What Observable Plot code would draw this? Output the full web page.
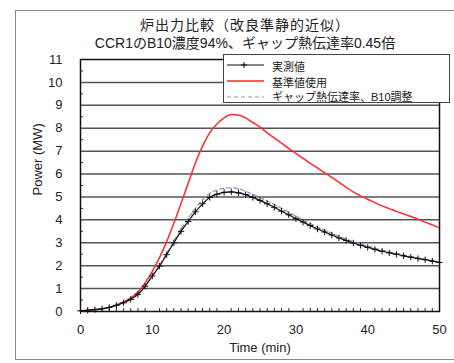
<!DOCTYPE html>
<html><head><meta charset="utf-8">
<script src="https://cdn.jsdelivr.net/npm/d3@7"></script>
<script src="https://cdn.jsdelivr.net/npm/@observablehq/plot@0.6"></script>
<style>
body{margin:0;background:#fff;font-family:"Liberation Sans","Noto Sans CJK JP",sans-serif;}
#wrap{position:relative;width:454px;height:363px;overflow:hidden;}
#box{position:absolute;left:15px;top:10px;width:460px;height:350px;border:1px solid #888;box-sizing:border-box;}
.t{position:absolute;left:0;width:490px;text-align:center;color:#222;white-space:nowrap;}
#t1{top:14px;font-size:14px;letter-spacing:1px;}
#t2{top:32px;font-size:14px;}
#chart{position:absolute;left:0;top:45px;}
#legend{position:absolute;left:223px;top:54px;width:227px;height:49px;border:1.5px solid #444;background:#fff;box-sizing:border-box;font-size:11px;color:#222;}
#legend div{position:absolute;left:48px;white-space:nowrap;}
#legend svg{position:absolute;left:0;top:0;}
</style></head>
<body><div id="wrap">
<div id="box"></div>
<div class="t" id="t1">炉出力比較（改良準静的近似）</div>
<div class="t" id="t2">CCR1のB10濃度94%、ギャップ熱伝達率0.45倍</div>
<div id="chart"></div>
<div id="legend">
<svg width="60" height="48">
<line x1="3" x2="40" y1="10" y2="10" stroke="#111" stroke-width="1.2"/>
<path d="M20,7V13M17,10H23" stroke="#111" stroke-width="1"/>
<line x1="3" x2="40" y1="26" y2="26" stroke="#ff2a2a" stroke-width="1.5"/>
<line x1="3" x2="40" y1="42" y2="42" stroke="#8c96c8" stroke-width="1.2" stroke-dasharray="4,3"/>
</svg>
<div style="top:3px">実測値</div>
<div style="top:19px">基準値使用</div>
<div style="top:33px">ギャップ熱伝達率、B10調整</div>
</div>
</div>
<script>
const minutes = [0,1,2,3,4,5,6,7,8,9,10,11,12,13,14,15,16,17,18,19,20,21,22,23,24,25,26,27,28,29,30,31,32,33,34,35,36,37,38,39,40,41,42,43,44,45,46,47,48,49,50];
const measured = [0.03,0.05,0.08,0.12,0.18,0.27,0.38,0.53,0.75,1.1,1.55,1.98,2.48,3.0,3.5,3.93,4.35,4.7,4.98,5.12,5.2,5.22,5.18,5.1,4.98,4.85,4.7,4.55,4.38,4.22,4.05,3.9,3.75,3.6,3.47,3.34,3.21,3.1,2.99,2.89,2.8,2.71,2.63,2.56,2.5,2.43,2.37,2.31,2.26,2.2,2.14];
const reference = [0.03,0.05,0.08,0.12,0.19,0.29,0.42,0.6,0.85,1.25,1.75,2.35,3.05,3.85,4.72,5.6,6.48,7.22,7.8,8.18,8.45,8.6,8.58,8.45,8.25,8.05,7.8,7.58,7.35,7.12,6.9,6.68,6.47,6.27,6.05,5.85,5.64,5.43,5.22,5.05,4.9,4.75,4.61,4.49,4.37,4.26,4.15,4.03,3.9,3.78,3.65];
const adjusted = [0.03,0.05,0.08,0.12,0.18,0.27,0.38,0.53,0.76,1.12,1.58,2.02,2.54,3.07,3.6,4.06,4.5,4.88,5.15,5.3,5.38,5.4,5.35,5.25,5.12,4.98,4.83,4.67,4.5,4.33,4.16,4.0,3.84,3.69,3.55,3.41,3.28,3.16,3.05,2.94,2.85,2.76,2.68,2.6,2.53,2.46,2.4,2.34,2.28,2.22,2.16];
const yTicks = [0,1,2,3,4,5,6,7,8,9,10,11];
const xTicks = [0,10,20,30,40,50];

const rows = minutes.map((t,i)=>({t, m: measured[i], r: reference[i], a: adjusted[i]}));
const yMinor = yTicks.slice(0,-1).map(v=>v+0.5);
const xMinor = minutes.filter(t=>t%10!==0);

const chart = Plot.plot({
  width: 454, height: 318,
  marginLeft: 80, marginRight: 15, marginTop: 14, marginBottom: 52,
  x: {domain:[0,50]},
  y: {domain:[0,11]},
  style: {fontFamily:'"Liberation Sans","Noto Sans CJK JP",sans-serif', fontSize:"13px", color:"#222", background:"transparent"},
  marks: [
    Plot.ruleY(yTicks.slice(1,-1), {stroke:"#555", strokeWidth:1.5}),
    Plot.axisY({ticks: yTicks, tickSize:0, tickPadding:18, label:null, fontSize:13}),
    Plot.axisY({ticks: yMinor, tickSize:-3, tickFormat:()=>"", label:null, stroke:"#333"}),
    Plot.axisX({ticks: xTicks, tickSize:0, tickPadding:13, label:null, fontSize:13}),
    Plot.axisX({ticks: xMinor, tickSize:-3, tickFormat:()=>"", label:null, stroke:"#333"}),
    Plot.text(["Power (MW)"], {frameAnchor:"left", dx:-43, dy:10, rotate:-90, fontSize:13, fill:"#222"}),
    Plot.text(["Time (min)"], {frameAnchor:"bottom", dy:40, fontSize:13, fill:"#222"}),
    Plot.line(rows, {x:"t", y:"r", stroke:"#ff2a2a", strokeWidth:1.5, curve:"monotone-x"}),
    Plot.line(rows, {x:"t", y:"a", stroke:"#8c96c8", strokeWidth:1.3, strokeDasharray:"4,3", curve:"monotone-x"}),
    Plot.line(rows, {x:"t", y:"m", stroke:"#111", strokeWidth:1.2, curve:"monotone-x"}),
    Plot.dot(rows, {x:"t", y:"m", symbol:"plus", r:2.2, stroke:"#111", strokeWidth:1}),
    Plot.frame({stroke:"#111", strokeWidth:1.5})
  ]
});
document.getElementById("chart").appendChild(chart);
</script>
</body></html>
